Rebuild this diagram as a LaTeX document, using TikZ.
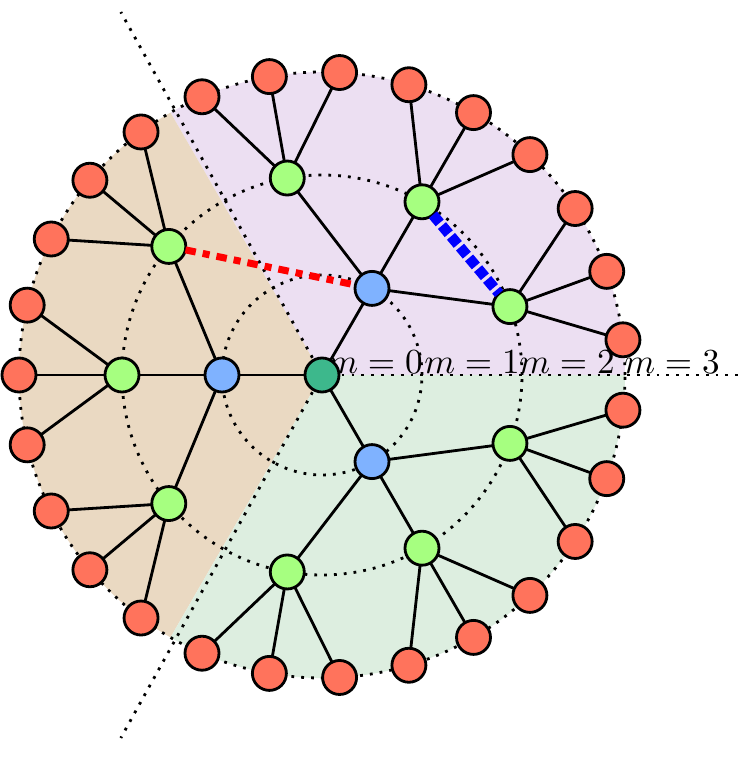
\documentclass[tikz,border=0pt]{standalone}
\usetikzlibrary{positioning}
\definecolor{leafred}{HTML}{FF735C}
\definecolor{midgreen}{HTML}{A6FF80}
\definecolor{hubblue}{HTML}{7FB2FF}
\definecolor{rootteal}{HTML}{3DB88C}
\definecolor{secpurple}{HTML}{ECDFF2}
\definecolor{secbrown}{HTML}{EAD9C2}
\definecolor{secgreen}{HTML}{DDEEE0}
\begin{document}
\begin{tikzpicture}
\tikzstyle{vertex}=[circle, inner sep=0pt,outer sep=0pt,
	thick, draw=black,minimum size=3.4mm]
\tikzstyle{ring}=[dotted, thick]
\useasboundingbox (-3.22,-3.87) rectangle (4.24,3.75);
% sectors
\fill[secpurple] (0,0) -- (0:3.03) arc (0:120:3.03) -- cycle;
\fill[secbrown] (0,0) -- (120:3.03) arc (120:240:3.03) -- cycle;
\fill[secgreen] (0,0) -- (240:3.03) arc (240:360:3.03) -- cycle;
\draw[ring] (0,0) circle (1);
\draw[ring] (0,0) circle (2);
\draw[ring] (0,0) circle (3.03);
\coordinate (o) at (0,0);
\coordinate (s1) at (0:4.2);
\coordinate (s2) at (119:4.15);
\coordinate (s3) at (241:4.15);
\draw[ring] (o) -- (s1);
\draw[ring] (o) -- (s2);
\draw[ring] (o) -- (s3);
\node at (0.53,0.13) {$m=0$};
\node at (1.5,0.13) {$m=1$};
\node at (2.45,0.13) {$m=2$};
\node at (3.5,0.13) {$m=3$};
% tree
\node[vertex,fill=rootteal] (r) at (0,0) {};
\foreach \s in {0,1,2} {
  \node[vertex,fill=hubblue] (b\s) at (60+120*\s:1) {};
  \draw[thick] (r) -- (b\s);
  \foreach \g in {0,1,2} {
    \node[vertex,fill=midgreen] (g\s\g) at (20+40*\g+120*\s:2) {};
    \draw[thick] (b\s) -- (g\s\g);
    \foreach \l in {0,1,2} {
      \node[vertex,fill=leafred] (l\s\g\l) at (6.67+13.33*\l+40*\g+120*\s:3.03) {};
      \draw[thick] (g\s\g) -- (l\s\g\l);
    }
  }
}
\draw[red, line width=2pt, dash dot] (g10) -- (b0);
\draw[blue, line width=3pt, densely dotted] (g01) -- (g00);
\end{tikzpicture}
\end{document}
